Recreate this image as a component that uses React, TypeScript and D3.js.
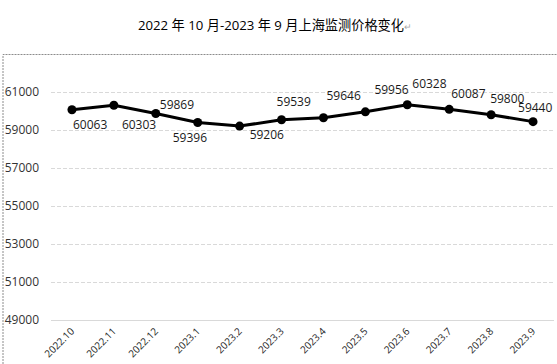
import { useEffect, useRef } from "react";
import * as d3 from "d3";

// ─── Data ─────────────────────────────────────────────────────────────────────

const MONTHS = [
  "2022.10",
  "2022.11",
  "2022.12",
  "2023.1",
  "2023.2",
  "2023.3",
  "2023.4",
  "2023.5",
  "2023.6",
  "2023.7",
  "2023.8",
  "2023.9",
];
const PRICES = [
  60063, 60303, 59869, 59396, 59206, 59539, 59646, 59956, 60328, 60087, 59800,
  59440,
];
const Y_TICKS = [49000, 51000, 53000, 55000, 57000, 59000, 61000];

// label offsets relative to each point (dx to left edge, dy to baseline)
const LABEL_POS: [number, number][] = [
  [1, 19],
  [8, 24],
  [4, -4],
  [-25, 20],
  [10, 13],
  [-5, -14],
  [3, -18],
  [9, -18],
  [5, -17],
  [2, -11],
  [-1, -12],
  [-15, -10],
];

const W = 557,
  H = 364;
const FONT = "'Open Sans', 'Noto Sans CJK SC', sans-serif";

export default function App() {
  const svgRef = useRef<SVGSVGElement>(null);

  useEffect(() => {
    if (!svgRef.current) return;
    const svg = d3.select(svgRef.current);
    svg.selectAll("*").remove();

    const left = 51,
      right = 554;
    const x = d3.scaleBand().domain(MONTHS).range([left, right]);
    const y = d3.scaleLinear().domain([49000, 63000]).range([320, 54]);
    const cx = (m: string) => x(m)! + x.bandwidth() / 2;

    // Title
    const title = svg
      .append("text")
      .attr("x", 138)
      .attr("y", 30)
      .attr("font-size", 13.2)
      .attr("font-family", FONT)
      .attr("fill", "#000");
    title.append("tspan").text("2022 年 10 月-2023 年 9 月上海监测价格变化");
    title.append("tspan").attr("fill", "#aaa").attr("font-size", 9).text("↵");

    // Dashed frame
    svg
      .append("path")
      .attr("d", `M3,${H} V54.5 H${W}`)
      .attr("fill", "none")
      .attr("stroke", "#8c8c8c")
      .attr("stroke-dasharray", "2,1");

    // Grid
    svg
      .append("g")
      .selectAll("line")
      .data(Y_TICKS)
      .join("line")
      .attr("x1", left)
      .attr("x2", right)
      .attr("y1", (d) => y(d) + 0.5)
      .attr("y2", (d) => y(d) + 0.5)
      .attr("stroke", "#d9d9d9")
      .attr("stroke-dasharray", (d) => (d === 49000 ? null : "4,2"));

    // Y tick labels
    svg
      .append("g")
      .selectAll("text")
      .data(Y_TICKS)
      .join("text")
      .attr("x", 39)
      .attr("y", (d) => y(d) + 4)
      .attr("text-anchor", "end")
      .attr("font-size", 12)
      .attr("font-family", FONT)
      .attr("fill", "#333")
      .text((d) => d);

    // X tick labels
    svg
      .append("g")
      .selectAll("text")
      .data(MONTHS)
      .join("text")
      .attr("transform", (d) => `translate(${cx(d) + 3},${332}) rotate(-45)`)
      .attr("text-anchor", "end")
      .attr("font-size", 10)
      .attr("font-family", FONT)
      .attr("fill", "#262626")
      .text((d) => d);

    const pts = MONTHS.map((m, i) => ({ m, v: PRICES[i], i }));

    // Line
    svg
      .append("path")
      .datum(pts)
      .attr(
        "d",
        d3
          .line<(typeof pts)[0]>()
          .x((d) => cx(d.m))
          .y((d) => y(d.v))(pts)!,
      )
      .attr("fill", "none")
      .attr("stroke", "#000")
      .attr("stroke-width", 3)
      .attr("stroke-linejoin", "round");

    // Markers
    svg
      .append("g")
      .selectAll("circle")
      .data(pts)
      .join("circle")
      .attr("cx", (d) => cx(d.m))
      .attr("cy", (d) => y(d.v))
      .attr("r", 4.5)
      .attr("fill", "#000");

    // Value labels
    svg
      .append("g")
      .selectAll("text")
      .data(pts)
      .join("text")
      .attr("x", (d) => cx(d.m) + LABEL_POS[d.i][0])
      .attr("y", (d) => y(d.v) + LABEL_POS[d.i][1])
      .attr("font-size", 12)
      .attr("font-family", FONT)
      .attr("fill", "#1a1a1a")
      .text((d) => d.v);
  }, []);

  return (
    <div style={{ position: "absolute", left: 0, top: 0, background: "#fff" }}>
      <svg ref={svgRef} width={W} height={H} style={{ display: "block" }} />
    </div>
  );
}
